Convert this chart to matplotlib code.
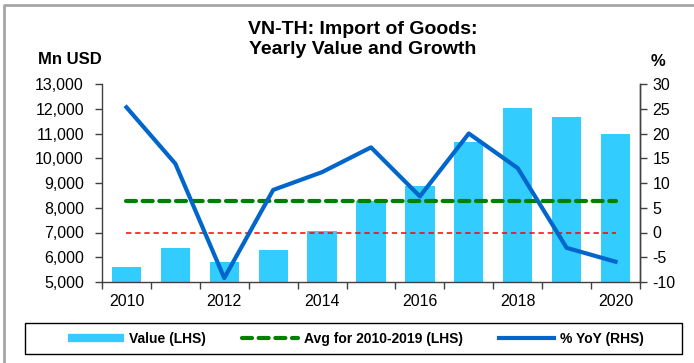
import numpy as np
import matplotlib
matplotlib.use("Agg")
import matplotlib.pyplot as plt
from matplotlib.lines import Line2D
from matplotlib.patches import Rectangle
from matplotlib.ticker import FuncFormatter, MultipleLocator, FixedLocator

plt.rcParams['font.family'] = ['Liberation Sans', 'DejaVu Sans']

# ---- data ----
years = [2010, 2011, 2012, 2013, 2014, 2015, 2016, 2017, 2018, 2019, 2020]
value_mn_usd = [5606, 6386, 5796, 6293, 7060, 8272, 8879, 10657, 12040, 11667, 10980]
yoy_pct = [25.3, 13.9, -9.2, 8.6, 12.2, 17.2, 7.3, 20.0, 13.0, -3.1, -5.9]
year_labels = ['2010', '2012', '2014', '2016', '2018', '2020']

avg_2010_2019 = np.mean(value_mn_usd[:10])

bar_color = '#33CCFF'
line_color = '#0066CC'
avg_color = '#008000'

W, H = 694, 363
fig = plt.figure(figsize=(W / 100, H / 100), dpi=100)

# plot area in pixels: x 102-640, y 84-282
ax = fig.add_axes([102 / W, (H - 282) / H, (640 - 102) / W, (282 - 84) / H])
ax2 = ax.twinx()

x = np.arange(len(years))
ax.bar(x, value_mn_usd, width=0.6, color=bar_color, zorder=2)
ax.plot([x[0], x[-1]], [avg_2010_2019] * 2, color=avg_color, lw=3,
        dashes=(2.4, 1.6), dash_capstyle='round', zorder=3)

ax2.plot([x[0], x[-1]], [0, 0], color='#FF0000', lw=1.1, dashes=(3.5, 2.5), zorder=1)
ax2.plot(x, yoy_pct, color=line_color, lw=3, zorder=3)

ax.set_xlim(-0.5, len(years) - 0.5)
ax.set_ylim(5000, 13000)
ax2.set_ylim(-10, 30)

ax.yaxis.set_major_locator(MultipleLocator(1000))
ax.yaxis.set_major_formatter(FuncFormatter(lambda v, p: f'{int(v):,}'))
ax2.yaxis.set_major_locator(MultipleLocator(5))
ax2.yaxis.set_major_formatter(FuncFormatter(lambda v, p: f'{int(v)}'))

# year labels at every second category, tick marks between categories
ax.xaxis.set_major_locator(FixedLocator(x[::2]))
ax.set_xticklabels(year_labels)
ax.xaxis.set_minor_locator(FixedLocator(np.arange(-0.5, len(years), 1.0)))
ax.tick_params(axis='x', which='major', length=0, pad=9, labelsize=11.5)
ax.tick_params(axis='x', which='minor', length=5, width=1, direction='out', color='#404040')
ax.tick_params(axis='y', length=5, width=1, color='#404040', pad=8, labelsize=11.5)
ax2.tick_params(axis='y', length=5, width=1, color='#404040', pad=4, labelsize=11.5)

for a in (ax, ax2):
    a.spines['top'].set_visible(False)
    for s in a.spines.values():
        s.set_color('#404040')
        s.set_linewidth(1)
ax2.spines['left'].set_visible(False)
ax2.spines['bottom'].set_visible(False)

fig.text(363 / W, 1 - 39.5 / H, 'VN-TH: Import of Goods:\nYearly Value and Growth',
         ha='center', va='center', fontsize=14, fontweight='bold', linespacing=1.2)
fig.text(38 / W, 1 - 60 / H, 'Mn USD', ha='left', va='center',
         fontsize=12, fontweight='bold')
fig.text(658 / W, 1 - 62 / H, '%', ha='center', va='center',
         fontsize=12, fontweight='bold')

# legend with a plain black box below the chart
fig.add_artist(Rectangle((25 / W, 1 - 354 / H), (682 - 25) / W, (354 - 323) / H,
                         transform=fig.transFigure, fill=False, edgecolor='black', lw=1))
handles = [
    Line2D([], [], color=bar_color, lw=6, solid_capstyle='butt'),
    Line2D([], [], color=avg_color, lw=3, dashes=(2.4, 1.6), dash_capstyle='round'),
    Line2D([], [], color=line_color, lw=3),
]
labels = ['Value (LHS)', 'Avg for 2010-2019 (LHS)', '% YoY (RHS)']
fig.legend(handles, labels, loc='center', bbox_to_anchor=(356 / W, 1 - 338.5 / H),
           ncol=3, frameon=False, handlelength=4.0, handletextpad=0.4,
           columnspacing=2.6, prop={'weight': 'bold', 'size': 10})

# gray outer border on top and left
fig.add_artist(Line2D([3.5 / W, 3.5 / W, 1.0], [0.0, 1 - 4.5 / H, 1 - 4.5 / H],
                      transform=fig.transFigure, color='#A6A6A6', lw=2))

fig.savefig('out.png', dpi=100)
